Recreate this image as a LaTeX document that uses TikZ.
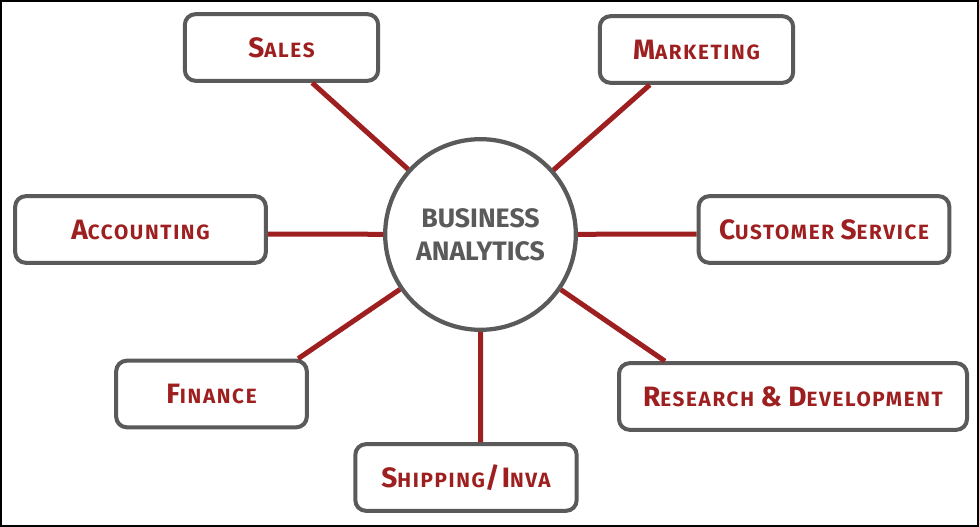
\documentclass[tikz,border=0pt]{standalone}
\usepackage{fontspec}
\setmainfont{Fira Sans}
\newfontfamily\deptfont[LetterSpace=8]{Fira Sans}
\definecolor{linkred}{HTML}{9E1F1F}
\definecolor{boxgray}{HTML}{5A5A5A}
% big first letter, smaller capitals after it
\newcommand\capword[2]{{\fontsize{21}{25}\selectfont #1}{\fontsize{15.5}{19}\selectfont #2}}
\begin{document}
\begin{tikzpicture}[x=0.75pt,y=-0.75pt,
        dept/.style={draw=boxgray,line width=3pt,rounded corners=8pt,fill=white,
            text=linkred,minimum height=50pt,inner sep=0pt,
            font=\deptfont\bfseries\fontsize{15.5}{19}\selectfont},
        hub/.style={circle,draw=boxgray,line width=3.2pt,fill=white,minimum size=143pt,
            text=boxgray,align=center,font=\bfseries\fontsize{20}{24.75}\selectfont},
        link/.style={draw=linkred,line width=3.75pt}]
    \useasboundingbox (0,0) rectangle (979,527);
    \draw[line width=1.5pt] (1,1) rectangle (978,526);

    \node[hub] (ba) at (480.5,234.5) {BUSINESS\\ANALYTICS};

    \node[dept,minimum width=145pt] (sales) at (281.5,47.5) {\capword{S}{ALES}};
    \node[dept,minimum width=145pt] (mkt) at (696.5,49.5) {\capword{M}{ARKETING}};

    \node[dept,minimum width=188pt] (acc) at (140.5,229.5) {\capword{A}{CCOUNTING}};
    \node[dept,minimum width=188pt] (cs) at (824,229.5) {\capword{C}{USTOMER} \capword{S}{ERVICE}};

    \node[dept,minimum width=143pt] (fin) at (211.5,394) {\capword{F}{INANCE}};
    \node[dept,minimum width=261pt] (rd) at (793,396.5) {\capword{R}{ESEARCH} \capword{\&}{} \capword{D}{EVELOPMENT}};

    \node[dept,minimum width=166pt] (ship) at (466,477.5) {\capword{S}{HIPPING}\capword{/I}{NVA}};

    \draw[link] (ba) -- ([xshift=23pt]sales.south);
    \draw[link] (ba) -- ([xshift=-35pt]mkt.south);
    \draw[link] (ba) -- ([yshift=-3.4pt]acc.east);
    \draw[link] (ba) -- ([yshift=-3.4pt]cs.west);
    \draw[link] (ba) -- ([xshift=65pt]fin.north);
    \draw[link] (ba) -- ([xshift=-96pt]rd.north);
    \draw[link] (ba) -- ([xshift=11pt]ship.north);
\end{tikzpicture}
\end{document}
